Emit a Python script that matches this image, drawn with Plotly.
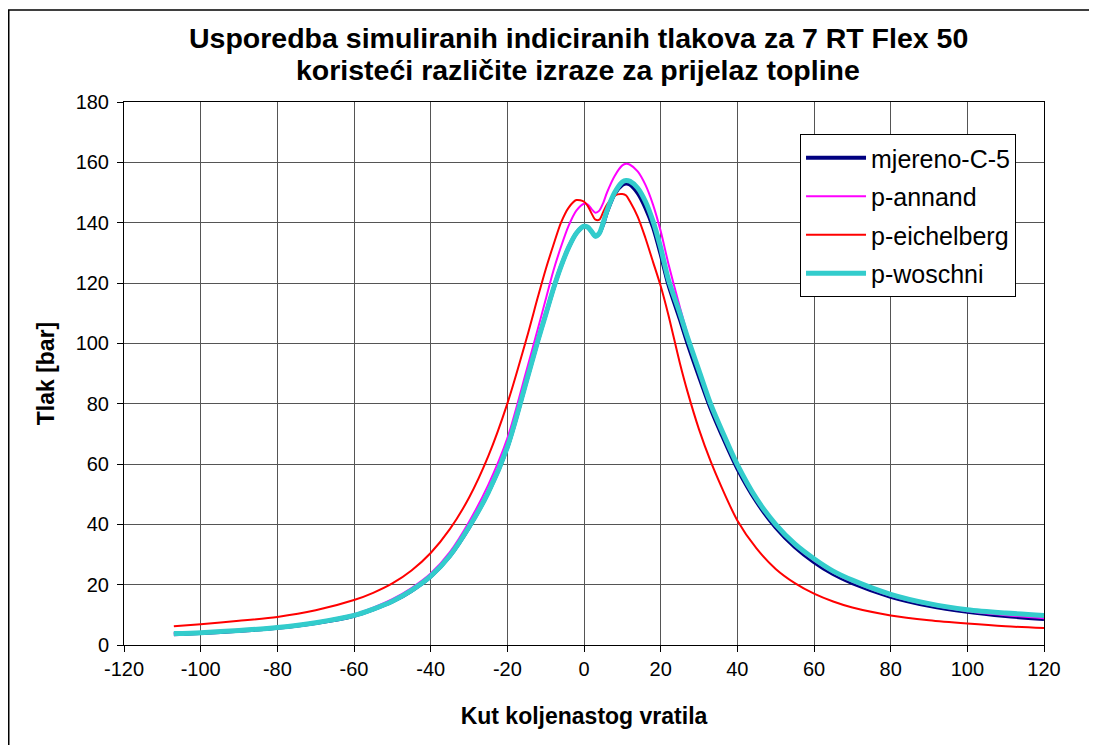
"""Usporedba simuliranih indiciranih tlakova - 7 RT Flex 50"""

import plotly.graph_objects as go

# kut koljenastog vratila [deg]
kut = [-107, -100, -90, -80, -70, -60, -55, -50, -45, -40, -35,
       -30, -25, -20, -15, -12, -10, -8, -6, -4, -2,
       0, 1, 2, 3, 4, 5, 6, 8, 10, 11,
       12, 14, 16, 18, 20, 22, 25, 27, 30, 33,
       36, 40, 45, 50, 55, 60, 65, 70, 80, 90,
       100, 110, 120]

# tlakovi [bar]
mjereno_c5 = [3.6, 4.0, 4.7, 5.7, 7.3, 9.7, 11.8, 14.4, 18.0, 22.7, 29.5,
              39.0, 50.5, 65.5, 87.5, 101, 109.5, 118, 125.5, 131.8, 136.5,
              138.8, 138.4, 137, 135.5, 136.5, 139.5, 143.5, 149.5, 152.5, 153,
              152.6, 149.8, 145, 138.5, 129.5, 119.5, 108, 100, 89, 78.5,
              69.5, 58.5, 47.5, 39, 32.5, 27.5, 23.5, 20.5, 16, 13,
              11, 9.6, 8.6]

p_annand = [3.8, 4.2, 4.9, 6.0, 7.6, 10.2, 12.4, 15.2, 18.9, 23.7, 30.8,
            40.8, 53, 68.5, 91, 105, 114.5, 124, 132, 139, 144,
            146.3, 146, 144.5, 143.3, 144, 146.5, 150, 155.5, 159, 159.5,
            159.2, 157, 152.6, 146, 137.2, 126.5, 112, 103, 91.5, 80.5,
            71, 59.3, 48, 39.5, 33, 28, 24, 21, 16.3, 13.3,
            11.2, 9.9, 8.9]

p_eichelberg = [6.2, 6.9, 8.0, 9.3, 11.5, 14.9, 17.3, 20.4, 24.7, 30.5, 38.4,
                48.8, 62.5, 80, 101.5, 115.5, 124.5, 132.5, 140, 145, 147.5,
                147, 145.5, 143, 141, 141, 143.5, 146, 149, 149.5, 149,
                147, 142, 135, 127, 119, 109.5, 93.5, 84, 71.5, 61,
                52, 41.3, 32, 25.2, 20.5, 17.0, 14.4, 12.4, 9.8, 8.2,
                7.1, 6.2, 5.6]

p_woschni = [3.8, 4.1, 4.8, 5.8, 7.4, 9.8, 11.9, 14.5, 18.1, 22.8, 29.6,
             39.1, 50.5, 65.6, 87.5, 101, 109.5, 118, 125.5, 131.8, 136.5,
             138.8, 138.5, 137, 135.5, 136.5, 140, 144, 150, 153.5, 154,
             153.7, 151.5, 147.1, 140.5, 131.7, 121.2, 110, 102, 91, 80,
             71, 59.8, 48.5, 40, 33.5, 28.6, 24.5, 21.5, 16.8, 13.7,
             11.7, 10.6, 9.8]

x_oznake = [-120, -100, -80, -60, -40, -20, 0, 20, 40, 60, 80, 100, 120]

naslov = [
    "Usporedba simuliranih indiciranih tlakova za 7 RT Flex 50",
    "koristeći različite izraze za prijelaz topline",
]

serije = [
    ("mjereno-C-5", mjereno_c5, "#000080", 4),
    ("p-annand", p_annand, "#FF00FF", 2),
    ("p-eichelberg", p_eichelberg, "#FF0000", 2),
    ("p-woschni", p_woschni, "#33CCCC", 5),
]

fig = go.Figure()
for ime, tlak, boja, debljina in serije:
    fig.add_trace(go.Scatter(
        x=kut, y=tlak, name=ime, mode="lines", legendgroup=ime,
        line=dict(color=boja, width=debljina, shape="spline", smoothing=0.8),
    ))

os_stil = dict(
    showgrid=True, gridcolor="#555555", gridwidth=1,
    showline=True, linecolor="black", linewidth=1,
    ticks="outside", ticklen=6, tickcolor="black",
    tickfont=dict(size=20, color="black"),
    zeroline=False,
)

# naslov u dva reda kao anotacije (tocniji razmak redova)
for i, red in enumerate(naslov):
    fig.add_annotation(
        text=f"<b>{red}</b>", xref="paper", yref="paper",
        x=0.494, y=[1.1179, 1.0589][i], xanchor="center", yanchor="middle",
        showarrow=False, font=dict(size=28.5),
    )

# stranica ima 8px margine, pa je slika 1081x737
fig.update_layout(
    width=1081, height=737,
    paper_bgcolor="white", plot_bgcolor="white",
    margin=dict(l=116, r=45, t=94, b=100),
    font=dict(family="Liberation Sans, Arial", color="black"),
    xaxis=dict(os_stil, range=[-120, 120], mirror=True,
               tickvals=x_oznake, ticktext=[str(v) for v in x_oznake],
               title=dict(text="<b>Kut koljenastog vratila</b>",
                          font=dict(size=23), standoff=28)),
    yaxis=dict(os_stil, range=[0, 180], dtick=20, mirror=True,
               ticklabelstandoff=4,
               title=dict(text="<b>Tlak [bar]</b>",
                          font=dict(size=23), standoff=14)),
    legend=dict(
        x=0.7348, y=0.941, xanchor="left", yanchor="top",
        bgcolor="white", bordercolor="black", borderwidth=1,
        font=dict(size=25), tracegroupgap=3, traceorder="grouped",
        itemwidth=60,
    ),
    shapes=[dict(type="rect", xref="paper", yref="paper",
                 x0=(0.75 - 116) / 920, x1=(1100 - 116) / 920,
                 y0=(637 - 760) / 543, y1=(637 - 2) / 543,
                 line=dict(color="black", width=1.5), layer="below")],
)

fig.write_html("out.html")
